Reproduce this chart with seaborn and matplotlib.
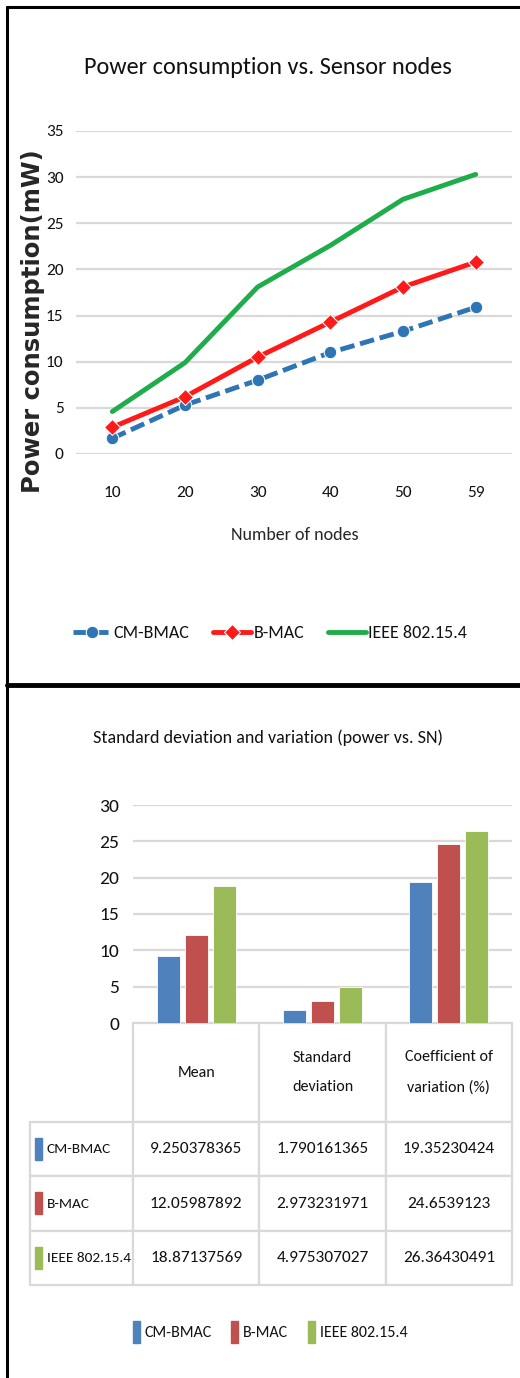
"""
Power consumption vs. sensor nodes + summary statistics (CM-BMAC / B-MAC / IEEE 802.15.4)
"""

import numpy as np
import pandas as pd
import matplotlib.pyplot as plt
import seaborn as sns
from matplotlib.patches import Rectangle
from matplotlib.lines import Line2D

# ── Data ──────────────────────────────────────────────────────
nodes = ['10', '20', '30', '40', '50', '59']
cm_bmac = [1.7, 5.3, 8.0, 11.0, 13.3, 15.9]
b_mac = [2.9, 6.2, 10.5, 14.3, 18.1, 20.8]
ieee = [4.6, 9.9, 18.1, 22.6, 27.6, 30.3]

protocols = ['CM-BMAC', 'B-MAC', 'IEEE 802.15.4']
stat_names = ['Mean', 'Standard deviation', 'Coefficient of variation (%)']
stat_headers = ['Mean', 'Standard\ndeviation', 'Coefficient of\nvariation (%)']
cm_stats = [9.250378365, 1.790161365, 19.35230424]
bmac_stats = [12.05987892, 2.973231971, 24.6539123]
ieee_stats = [18.87137569, 4.975307027, 26.36430491]

line_colors = {'CM-BMAC': '#2E75B6', 'B-MAC': '#FF1A1A', 'IEEE 802.15.4': '#1FAD4B'}
bar_colors = {'CM-BMAC': '#4F81BD', 'B-MAC': '#C0504D', 'IEEE 802.15.4': '#9BBB59'}

# ── Style ─────────────────────────────────────────────────────
sns.set_style('white')
plt.rcParams['font.family'] = ['Liberation Sans Narrow', 'Carlito', 'Lato', 'DejaVu Sans']
plt.rcParams['text.color'] = '#111111'
plt.rcParams['xtick.color'] = '#111111'
plt.rcParams['ytick.color'] = '#111111'

W, H = 520, 1378
fig = plt.figure(figsize=(W / 100, H / 100), dpi=100)
fig.patch.set_facecolor('white')

# ── 1. Line chart ─────────────────────────────────────────────
ax1 = fig.add_axes([76 / W, 1 - 454 / H, 436 / W, 323 / H])

sns.lineplot(x=nodes, y=cm_bmac, ax=ax1, color=line_colors['CM-BMAC'],
             linestyle=(0, (3, 1.2)), linewidth=3.5, marker='o', markersize=9,
             label='CM-BMAC', sort=False)
sns.lineplot(x=nodes, y=b_mac, ax=ax1, color=line_colors['B-MAC'],
             linewidth=3.5, marker='D', markersize=8,
             label='B-MAC', sort=False)
sns.lineplot(x=nodes, y=ieee, ax=ax1, color=line_colors['IEEE 802.15.4'],
             linewidth=3.5, label='IEEE 802.15.4', sort=False)

ax1.set_xlim(-0.5, 5.5)
ax1.set_ylim(0, 35)
ax1.set_yticks(range(0, 36, 5))
ax1.grid(axis='y', color='#D9D9D9', linewidth=1.6)
ax1.set_axisbelow(True)
for s in ax1.spines.values():
    s.set_visible(False)
ax1.tick_params(axis='both', length=0, labelsize=12.5)
ax1.tick_params(axis='x', pad=23)
ax1.tick_params(axis='y', pad=9)
ax1.set_xlabel('Number of nodes', fontsize=13)
ax1.xaxis.set_label_coords(0.502, -0.225)
ax1.set_ylabel('Power consumption(mW)', fontsize=17.5, fontweight='bold',
               family='DejaVu Sans')
ax1.yaxis.set_label_coords(-0.07, 0.41)
fig.text(268 / W, 1 - 68 / H, 'Power consumption vs. Sensor nodes',
         ha='center', va='center', fontsize=17.5)
ax1.legend(loc='center', bbox_to_anchor=(270 / W, 1 - 633 / H),
           bbox_transform=fig.transFigure, ncol=3, frameon=False,
           fontsize=13, handlelength=2.1, handletextpad=0.15, columnspacing=1.3)

# ── 2. Bar chart with data table ──────────────────────────────
ax2 = fig.add_axes([133 / W, 1 - 1023 / H, 379 / W, 218 / H])

bars_df = pd.DataFrame({
    'stat': stat_names * 3,
    'protocol': np.repeat(protocols, 3),
    'value': cm_stats + bmac_stats + ieee_stats,
})
sns.barplot(data=bars_df, x='stat', y='value', hue='protocol',
            palette=bar_colors, saturation=1, width=0.667, gap=0.18, ax=ax2,
            legend=False, edgecolor='white', linewidth=0.6)

ax2.set_xlim(-0.5, 2.5)
ax2.set_ylim(0, 30)
ax2.set_yticks(range(0, 31, 5))
ax2.grid(axis='y', color='#D9D9D9', linewidth=1.6)
ax2.set_axisbelow(True)
for s in ax2.spines.values():
    s.set_visible(False)
ax2.set_xticks([])
ax2.set_xlabel('')
ax2.set_ylabel('')
ax2.tick_params(axis='y', length=0, labelsize=14, pad=10)
fig.text(268 / W, 1 - 738 / H, 'Standard deviation and variation (power vs. SN)',
         ha='center', va='center', fontsize=13)

# table under the bars (first column = series names, top-left cell blank)
cell_text = [[''] + stat_headers] + [
    [p] + [str(v) for v in vals]
    for p, vals in zip(protocols, (cm_stats, bmac_stats, ieee_stats))]
col_w = [103, 126.3, 126.3, 126.3]
tbl = ax2.table(cellText=cell_text, cellLoc='center', colWidths=col_w,
                bbox=[(30 - 133) / 379, -262 / 218, 482 / 379, 262 / 218])
tbl.auto_set_font_size(False)
tbl.set_fontsize(12.5)
for (r, c), cell in tbl.get_celld().items():
    cell.set_edgecolor('#D9D9D9')
    cell.set_linewidth(1.6)
    cell.set_height(99 if r == 0 else 54.3)
    txt = cell.get_text()
    if r == 0:
        txt.set_fontsize(11.5)
        txt.set_linespacing(2.4)
        if c == 0:
            cell.visible_edges = ''
    elif c == 0:
        txt.set_horizontalalignment('left')
        txt.set_fontsize(11)
        cell.PAD = 0.165

# colour keys in the row labels
for i, p in enumerate(protocols):
    yc = 1149 + i * 54.3
    ax2.add_patch(Rectangle(((35 - 133) / 379, -(yc + 11 - 1023) / 218),
                            7 / 379, 22 / 218, transform=ax2.transAxes,
                            color=bar_colors[p], clip_on=False))

handles = [Rectangle((0, 0), 1, 1, color=bar_colors[p]) for p in protocols]
fig.legend(handles, protocols, loc='center', bbox_to_anchor=(270 / W, 1 - 1332 / H),
           ncol=3, frameon=False, fontsize=11.5, handlelength=0.45,
           handleheight=1.7, handletextpad=0.3, columnspacing=1.2)

# ── Panel borders ─────────────────────────────────────────────
for xs, ys, lw in [([7, W], [7, 7], 2.2),
                   ([7, 7], [7, H], 2.2),
                   ([7, W], [685, 685], 3.5)]:
    fig.add_artist(Line2D([x / W for x in xs], [1 - y / H for y in ys],
                          color='black', linewidth=lw, transform=fig.transFigure))

plt.savefig('out.png', dpi=100)
plt.close()
